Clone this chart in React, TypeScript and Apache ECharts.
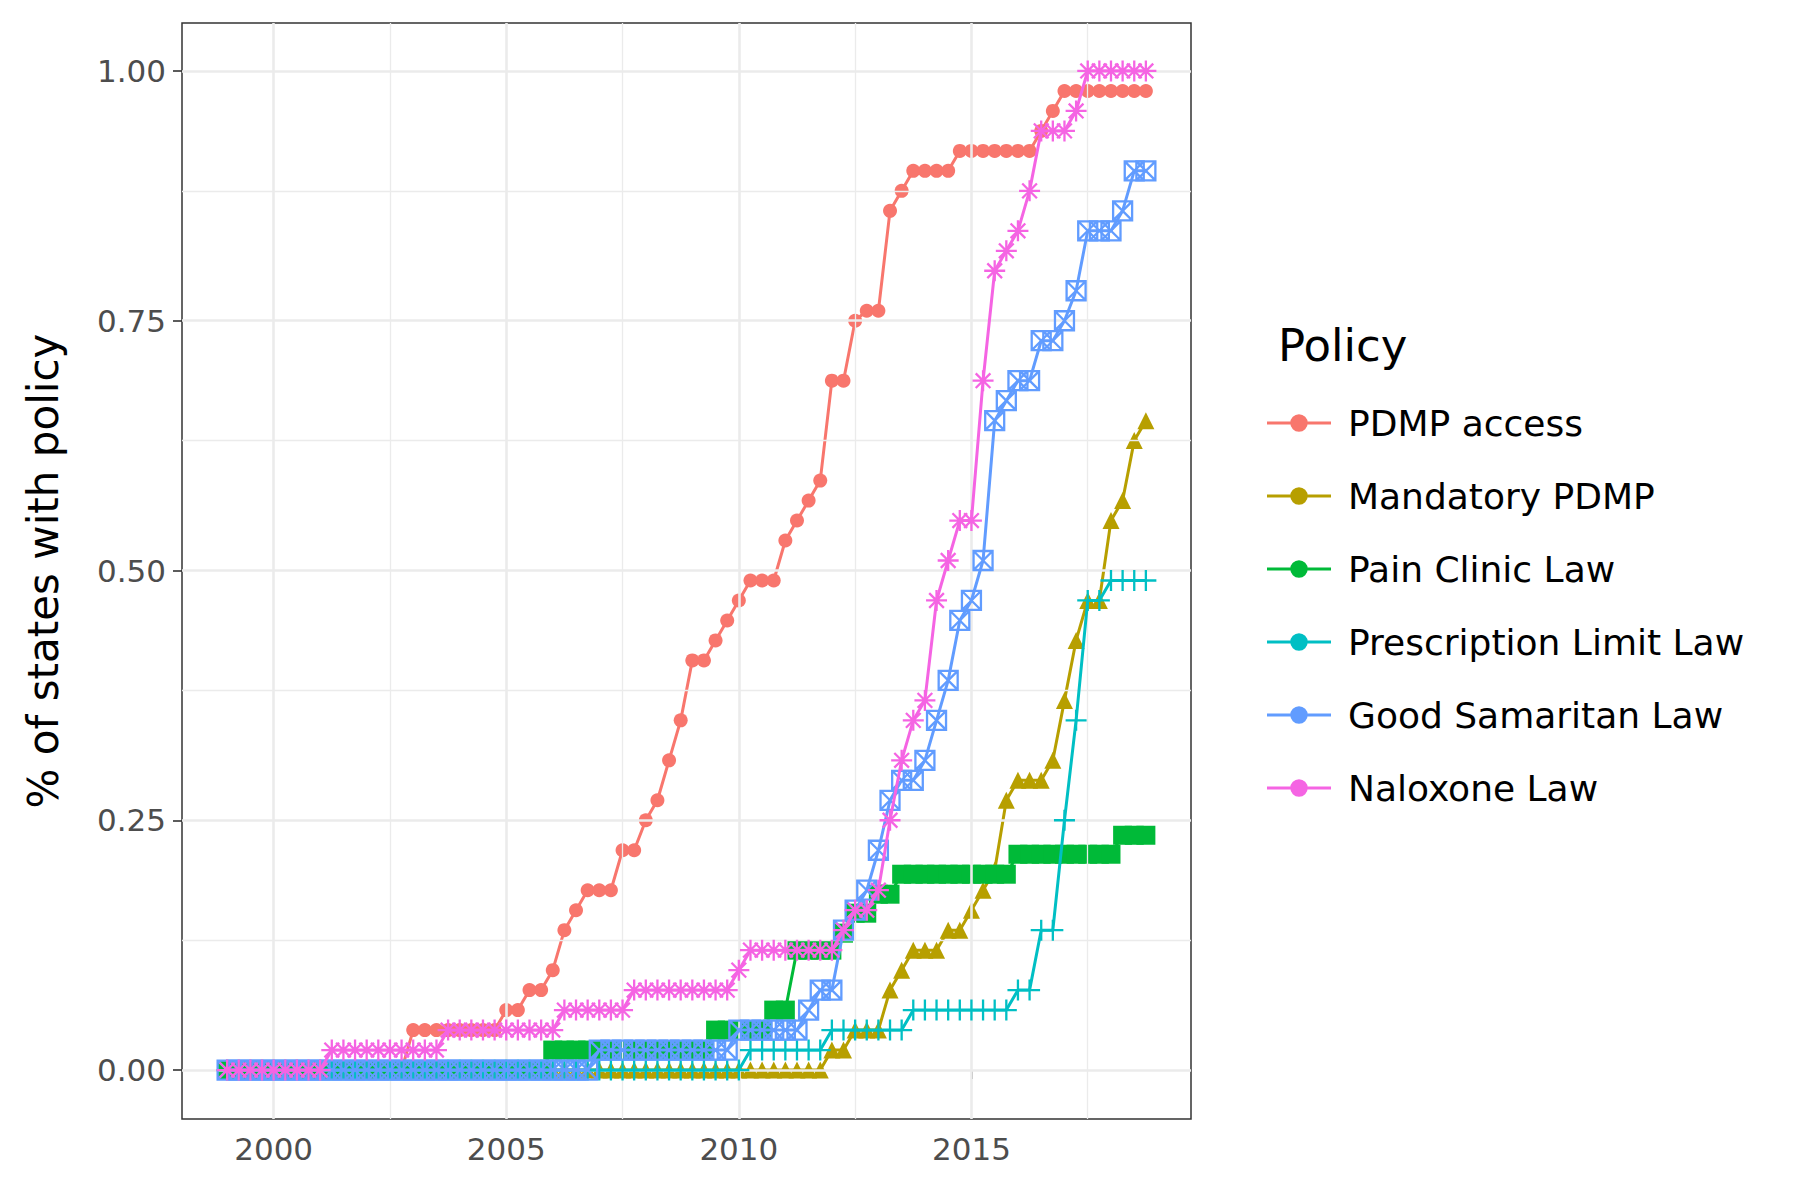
import React, { useEffect, useRef } from "react";
import * as echarts from "echarts";

// quarterly observations, 1999 Q1 .. 2018 Q4
const quarters: number[] = Array.from({ length: 80 }, (_, i) => 1999 + i * 0.25);

const policyNames = [
    "PDMP access",
    "Mandatory PDMP",
    "Pain Clinic Law",
    "Prescription Limit Law",
    "Good Samaritan Law",
    "Naloxone Law",
];
const policyColors = ["#F8766D", "#B79F00", "#00BA38", "#00BFC4", "#619CFF", "#F564E3"];

const pdmpAccess = [
    0, 0, 0, 0, 0, 0, 0, 0, 0, 0, 0, 0, 0, 0, 0, 0,
    0.04, 0.04, 0.04, 0.04, 0.04, 0.04, 0.04, 0.04,
    0.06, 0.06, 0.08, 0.08, 0.10, 0.14, 0.16, 0.18, 0.18, 0.18, 0.22, 0.22,
    0.25, 0.27, 0.31, 0.35, 0.41, 0.41, 0.43, 0.45, 0.47, 0.49, 0.49, 0.49,
    0.53, 0.55, 0.57, 0.59, 0.69, 0.69, 0.75, 0.76, 0.76, 0.86, 0.88,
    0.90, 0.90, 0.90, 0.90, 0.92, 0.92, 0.92, 0.92, 0.92, 0.92, 0.92,
    0.94, 0.96, 0.98, 0.98, 0.98, 0.98, 0.98, 0.98, 0.98, 0.98,
];
const mandatoryPdmp = [
    ...Array(52).fill(0),
    0.02, 0.02, 0.04, 0.04, 0.04, 0.08, 0.10, 0.12, 0.12, 0.12, 0.14, 0.14,
    0.16, 0.18, 0.20, 0.27, 0.29, 0.29, 0.29, 0.31, 0.37, 0.43, 0.47, 0.47,
    0.55, 0.57, 0.63, 0.65,
];
const painClinic = [
    ...Array(28).fill(0),
    0.02, 0.02, 0.02, 0.02, 0.02, 0.02, 0.02, 0.02, 0.02, 0.02, 0.02, 0.02, 0.02, 0.02,
    0.04, 0.04, 0.04, 0.04, 0.04, 0.06, 0.06, 0.12, 0.12, 0.12, 0.12,
    0.137, 0.157, 0.157, 0.176, 0.176,
    0.196, 0.196, 0.196, 0.196, 0.196, 0.196, 0.196, 0.196, 0.196, 0.196,
    0.216, 0.216, 0.216, 0.216, 0.216, 0.216, 0.216, 0.216, 0.216,
    0.235, 0.235, 0.235,
];
const prescriptionLimit = [
    ...Array(45).fill(0),
    0.02, 0.02, 0.02, 0.02, 0.02, 0.02, 0.02,
    0.04, 0.04, 0.04, 0.04, 0.04, 0.04, 0.04,
    0.06, 0.06, 0.06, 0.06, 0.06, 0.06, 0.06, 0.06, 0.06,
    0.08, 0.08, 0.14, 0.14, 0.25, 0.35, 0.47, 0.47, 0.49, 0.49, 0.49, 0.49,
];
const goodSamaritan = [
    ...Array(32).fill(0),
    0.02, 0.02, 0.02, 0.02, 0.02, 0.02, 0.02, 0.02, 0.02, 0.02, 0.02, 0.02,
    0.04, 0.04, 0.04, 0.04, 0.04, 0.04, 0.06, 0.08, 0.08,
    0.14, 0.16, 0.18, 0.22, 0.27, 0.29, 0.29, 0.31, 0.35, 0.39, 0.45, 0.47, 0.51,
    0.65, 0.67, 0.69, 0.69, 0.73, 0.73, 0.75, 0.78, 0.84, 0.84, 0.84, 0.86, 0.90, 0.90,
];
const naloxone = [
    ...Array(9).fill(0),
    0.02, 0.02, 0.02, 0.02, 0.02, 0.02, 0.02, 0.02, 0.02, 0.02,
    0.04, 0.04, 0.04, 0.04, 0.04, 0.04, 0.04, 0.04, 0.04, 0.04,
    0.06, 0.06, 0.06, 0.06, 0.06, 0.06,
    0.08, 0.08, 0.08, 0.08, 0.08, 0.08, 0.08, 0.08, 0.08,
    0.10, 0.12, 0.12, 0.12, 0.12, 0.12, 0.12, 0.12, 0.12,
    0.14, 0.16, 0.16, 0.18, 0.25, 0.31, 0.35, 0.37, 0.47, 0.51, 0.55, 0.55,
    0.69, 0.80, 0.82, 0.84, 0.88, 0.94, 0.94, 0.94, 0.96,
    1, 1, 1, 1, 1, 1,
];
const seriesValues = [pdmpAccess, mandatoryPdmp, painClinic, prescriptionLimit, goodSamaritan, naloxone];

const xTicks = [2000, 2005, 2010, 2015];
const xMinor = [2002.5, 2007.5, 2012.5, 2017.5];
const yTicks = [0, 0.25, 0.5, 0.75, 1];
const yMinor = [0.125, 0.375, 0.625, 0.875];

const plusPath = "path://M5,0 V10 M0,5 H10";
const boxXPath = "path://M0,0 H10 V10 H0 Z M0,0 L10,10 M10,0 L0,10";
const starPath = "path://M5,0 V10 M0,5 H10 M1.5,1.5 L8.5,8.5 M8.5,1.5 L1.5,8.5";
const legendIcon = "path://M0,9 H44 V11 H0 Z M16,10 A6,6 0 1,1 28,10 A6,6 0 1,1 16,10 Z";

const symbols = ["circle", "triangle", "rect", plusPath, boxXPath, starPath];
const symbolSizes = [14, 17, 19, 21, 19, 21];
const stroked = [false, false, false, true, true, true];

const App: React.FC = () => {
    const chartRef = useRef<HTMLDivElement>(null);

    useEffect(() => {
        document.body.style.margin = "0";
        if (!chartRef.current) return;
        const chart = echarts.init(chartRef.current, undefined, { renderer: "svg" });

        const gridLine = (v: number, axis: "xAxis" | "yAxis", width: number) => ({
            [axis]: v,
            lineStyle: { color: "#EBEBEB", width, type: "solid" },
        });

        const series: any[] = [
            {
                type: "line",
                data: [[2000, 0]],
                showSymbol: false,
                lineStyle: { width: 0 },
                silent: true,
                z: 1,
                markLine: {
                    silent: true,
                    symbol: "none",
                    label: { show: false },
                    animation: false,
                    data: [
                        ...xMinor.map((v) => gridLine(v, "xAxis", 1.3)),
                        ...yMinor.map((v) => gridLine(v, "yAxis", 1.3)),
                        ...xTicks.map((v) => gridLine(v, "xAxis", 2.6)),
                        ...yTicks.map((v) => gridLine(v, "yAxis", 2.6)),
                    ],
                },
            },
            ...policyNames.map((name, k) => ({
                name,
                type: "line",
                z: 2 + k,
                data: quarters.map((q, i) => [q, seriesValues[k][i]]),
                symbol: symbols[k],
                symbolSize: symbolSizes[k],
                symbolKeepAspect: true,
                lineStyle: { color: policyColors[k], width: 3 },
                itemStyle: stroked[k]
                    ? { color: "rgba(0,0,0,0)", borderColor: policyColors[k], borderWidth: 2.3 }
                    : { color: policyColors[k], borderWidth: 0 },
            })),
        ];

        chart.setOption({
            animation: false,
            textStyle: { fontFamily: "DejaVu Sans" },
            grid: {
                left: 182, right: 609, top: 23, bottom: 81,
                show: true, borderColor: "#333333", borderWidth: 1.5,
                backgroundColor: "transparent",
            },
            xAxis: {
                type: "value",
                min: 1998.03,
                max: 2019.72,
                splitLine: { show: false },
                axisLine: { show: false },
                axisTick: { show: true, customValues: xTicks, length: 9, lineStyle: { color: "#333333", width: 1.6 } },
                axisLabel: {
                    customValues: xTicks, color: "#4D4D4D", fontSize: 31, margin: 14,
                    formatter: (v: number) => String(v),
                },
            },
            yAxis: {
                type: "value",
                min: -0.049,
                max: 1.048,
                name: "% of states with policy",
                nameLocation: "middle",
                nameGap: 118,
                nameTextStyle: { color: "#000000", fontSize: 42 },
                splitLine: { show: false },
                axisLine: { show: false },
                axisTick: { show: true, customValues: yTicks, length: 9, lineStyle: { color: "#333333", width: 1.6 } },
                axisLabel: {
                    customValues: yTicks, color: "#4D4D4D", fontSize: 31, margin: 16,
                    formatter: (v: number) => v.toFixed(2),
                },
            },
            legend: {
                orient: "vertical",
                left: 1262,
                top: 400,
                itemWidth: 64,
                itemHeight: 20,
                itemGap: 37,
                selectedMode: false,
                textStyle: { fontSize: 36, color: "#000000", padding: [0, 0, 0, 12] },
                data: policyNames.map((name, k) => ({
                    name,
                    icon: legendIcon,
                    itemStyle: { color: policyColors[k], borderWidth: 0 },
                })),
            },
            graphic: [
                {
                    type: "text",
                    left: 1278,
                    top: 323,
                    style: { text: "Policy", fontSize: 45, fill: "#000000", fontFamily: "DejaVu Sans" },
                },
            ],
            series,
        });

        return () => chart.dispose();
    }, []);

    return <div ref={chartRef} style={{ width: 1800, height: 1200, background: "#ffffff" }} />;
};

export default App;
